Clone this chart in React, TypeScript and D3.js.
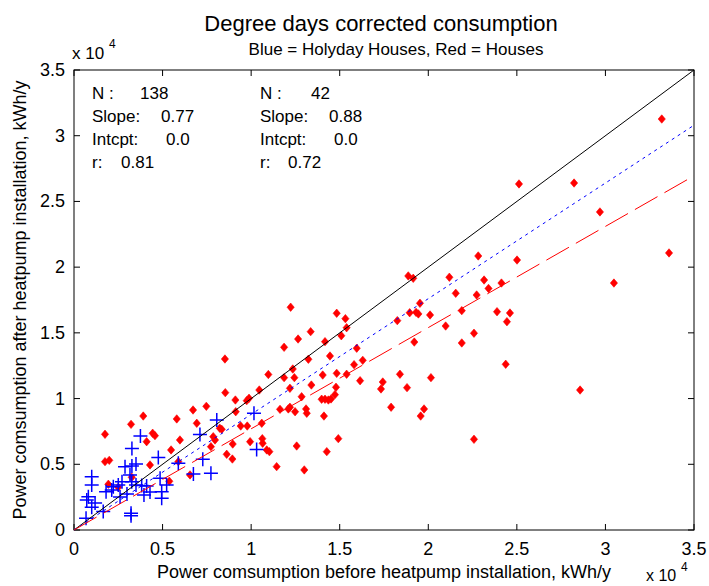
import React from 'react';
import * as d3 from 'd3';

// Red = Houses (N = 138), values in kWh/y
const redX = [33180, 25120, 28230, 29690, 33590, 30480, 28570, 22820, 25010, 23150, 23400, 24130, 22730, 23880, 24610, 24440, 22580, 24370, 22580, 21890, 21890, 18870, 19150, 21190, 21550, 19530, 18950, 19310, 19440, 20100, 18250, 20980, 19210, 12230, 14830, 15320, 15390, 13360, 12650, 15090, 14170, 11860, 8520, 14450, 13230, 15810, 16300, 15960, 14830, 15390, 16150, 17430, 17330, 18400, 18800, 20150, 17900, 19760, 19570, 14920, 14270, 10970, 11860, 12350, 12440, 12190, 12850, 13400, 14040, 8540, 9110, 9880, 9750, 10460, 7470, 9130, 11630, 12100, 12190, 12480, 13100, 13140, 14110, 13980, 14170, 14360, 14510, 14730, 14790, 8230, 9410, 9780, 10600, 7860, 8960, 9940, 10630, 12570, 7730, 6720, 6930, 8340, 7960, 10650, 10880, 11030, 8620, 8940, 11440, 13000, 3910, 5800, 3220, 1750, 4440, 4570, 4100, 5980, 1750, 1990, 4290, 5480, 5890, 6550, 1940, 2500, 3260, 5380];
const redY = [31270, 26330, 26400, 24200, 21080, 18790, 10650, 20850, 20540, 19020, 18380, 18790, 17880, 16610, 16510, 15850, 14970, 12610, 6900, 14230, 16690, 19330, 19150, 19230, 18010, 17250, 16530, 16560, 16440, 16360, 15930, 15520, 14300, 16950, 16490, 16080, 15390, 15090, 14530, 14780, 14330, 13900, 13010, 13240, 12990, 12580, 12910, 13830, 11920, 11850, 11360, 11260, 10730, 11850, 10830, 11590, 9340, 9210, 8670, 6950, 5960, 11830, 11590, 12250, 11590, 10780, 10140, 11030, 11790, 10450, 9890, 10020, 9840, 10650, 9410, 9000, 9180, 9210, 9340, 9000, 9210, 8880, 8670, 9950, 9950, 9890, 9970, 10300, 10860, 7740, 7910, 7910, 8120, 7100, 6540, 6720, 6950, 6390, 6340, 9130, 8120, 7660, 6850, 6600, 6090, 5960, 5760, 5400, 4820, 4570, 8670, 8450, 8040, 7280, 7360, 7180, 6720, 6850, 5200, 5300, 4950, 6090, 5200, 4190, 3480, 3250, 4010, 3710];

// Blue = Holyday Houses (N = 42), values in kWh/y
const blueX = [10160, 8060, 7110, 10310, 7270, 6740, 7730, 3750, 3270, 4760, 2880, 3270, 3500, 3160, 2710, 2500, 3260, 3500, 3820, 4100, 4950, 5230, 4860, 4950, 2130, 1810, 2220, 1000, 1000, 810, 720, 1000, 680, 1650, 3220, 3220, 5890, 3950, 1190, 2600, 4290, 2990];
const blueY = [8880, 8370, 7270, 6130, 5380, 4260, 4310, 7150, 6200, 5520, 4820, 4870, 5020, 4190, 3680, 3420, 3680, 3420, 3390, 3350, 2910, 3420, 3930, 2410, 3040, 2910, 3300, 4060, 3420, 2530, 2280, 1730, 890, 1410, 1270, 1090, 5080, 2660, 2050, 2510, 2890, 2740];

const redSlope = 0.77;
const blueSlope = 0.88;

const tickValues = [0, 5000, 10000, 15000, 20000, 25000, 30000, 35000];
const tickLabels = ['0', '0.5', '1', '1.5', '2', '2.5', '3', '3.5'];

const statLabels = ['N :', 'Slope:', 'Intcpt:', 'r:'];
const redStats = ['138', '0.77', '0.0', '0.81'];
const blueStats = ['42', '0.88', '0.0', '0.72'];

const titleText = 'Degree days corrected consumption';
const subtitleText = 'Blue = Holyday Houses, Red = Houses';
const xLabelText = 'Power comsumption before heatpump installation, kWh/y';
const yLabelText = 'Power comsumption after heatpump installation, kWh/y';

const W = 709;
const H = 586;
const M = { left: 74, right: 694, top: 70, bottom: 530 };
const FONT = "'Liberation Sans', Arial, Helvetica, sans-serif";

export default function App() {
  const x = d3.scaleLinear().domain([0, 35000]).range([M.left, M.right]);
  const y = d3.scaleLinear().domain([0, 35000]).range([M.bottom, M.top]);
  const tick = 6;

  const line = d3.line<[number, number]>().x(d => x(d[0])).y(d => y(d[1]));
  const xmax = 35000;

  const diamond = 'M0,-4.2L3.6,0L0,4.2L-3.6,0Z';
  const plusR = 7;

  const statRowY = [99, 122, 145, 168];
  const col1ValX = [140, 161, 166, 121];
  const col2ValX = [311, 329, 334, 288];

  return (
    <svg width={W} height={H} style={{ position: 'absolute', left: 0, top: 0, background: '#fff' }} fontFamily={FONT}>
      <rect x={0} y={0} width={W} height={H} fill="#fff" />
      {/* title */}
      <text x={381} y={31} textAnchor="middle" fontSize={22} fill="#000">{titleText}</text>
      <text x={396} y={55} textAnchor="middle" fontSize={17} fill="#000">{subtitleText}</text>

      {/* axes box */}
      <rect x={M.left} y={M.top} width={M.right - M.left} height={M.bottom - M.top} fill="none" stroke="#000" strokeWidth={1} />

      {/* ticks */}
      {tickValues.map((v, i) => (
        <g key={'t' + i}>
          <line x1={x(v)} x2={x(v)} y1={M.bottom} y2={M.bottom - tick} stroke="#000" />
          <line x1={x(v)} x2={x(v)} y1={M.top} y2={M.top + tick} stroke="#000" />
          <line x1={M.left} x2={M.left + tick} y1={y(v)} y2={y(v)} stroke="#000" />
          <line x1={M.right} x2={M.right - tick} y1={y(v)} y2={y(v)} stroke="#000" />
          <text x={x(v)} y={M.bottom + 25} textAnchor="middle" fontSize={18}>{tickLabels[i]}</text>
          <text x={M.left - 9} y={y(v) + 6} textAnchor="end" fontSize={18}>{tickLabels[i]}</text>
        </g>
      ))}

      {/* exponent labels */}
      <text x={72} y={59} fontSize={17}>x 10</text>
      <text x={109} y={48} fontSize={12}>4</text>
      <text x={646} y={581} fontSize={16}>x 10</text>
      <text x={681} y={571} fontSize={12}>4</text>

      {/* axis labels */}
      <text x={(M.left + M.right) / 2} y={578} textAnchor="middle" fontSize={18}>{xLabelText}</text>
      <text transform={`translate(26,${(M.top + M.bottom) / 2}) rotate(-90)`} textAnchor="middle" fontSize={18}>{yLabelText}</text>

      {/* stats */}
      {statLabels.map((s, i) => (
        <g key={'s' + i} fontSize={17}>
          <text x={92} y={statRowY[i]}>{s}</text>
          <text x={col1ValX[i]} y={statRowY[i]}>{redStats[i]}</text>
          <text x={260} y={statRowY[i]}>{s}</text>
          <text x={col2ValX[i]} y={statRowY[i]}>{blueStats[i]}</text>
        </g>
      ))}

      {/* red markers */}
      {redX.map((v, i) => (
        <path key={'r' + i} d={diamond} transform={`translate(${x(v)},${y(redY[i])})`} fill="#ff0000" stroke="#ff0000" strokeWidth={0.6} />
      ))}
      {/* blue markers */}
      {blueX.map((v, i) => (
        <path key={'b' + i} d={`M${-plusR},0H${plusR}M0,${-plusR}V${plusR}`} transform={`translate(${x(v)},${y(blueY[i])})`} stroke="#0000ff" strokeWidth={1.5} fill="none" />
      ))}

      {/* lines */}
      <path d={line([[0, 0], [xmax, xmax]]) || ''} stroke="#000" strokeWidth={1} fill="none" />
      <path d={line([[0, 0], [xmax, xmax * blueSlope]]) || ''} stroke="#0000ff" strokeWidth={1} strokeDasharray="3,4" fill="none" />
      <path d={line([[0, 0], [xmax, xmax * redSlope]]) || ''} stroke="#ff0000" strokeWidth={1} strokeDasharray="26,8" fill="none" />
    </svg>
  );
}
